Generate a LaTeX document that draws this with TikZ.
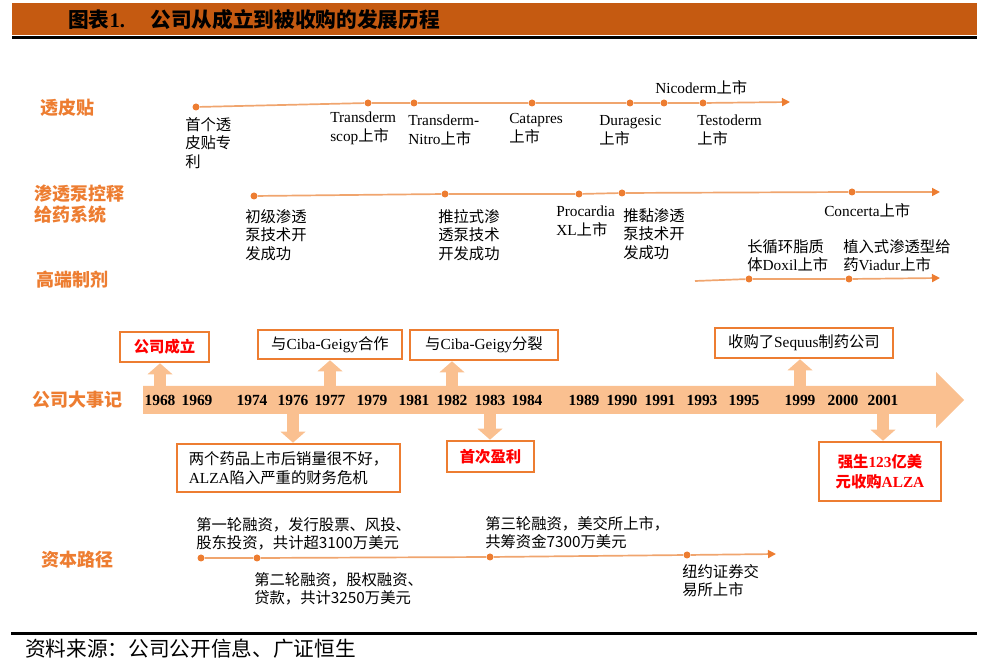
\documentclass[tikz,border=0pt]{standalone}
\usepackage{fontspec}
\setmainfont{Noto Sans CJK SC}
\newfontfamily\enfont{Liberation Serif}
\newcommand\en[1]{{\enfont #1}}
\usetikzlibrary{arrows.meta, positioning}
\definecolor{headbar}{HTML}{C55A11}
\definecolor{ora}{HTML}{ED7D31}
\definecolor{linec}{HTML}{F0A56E}
\definecolor{peach}{HTML}{FAC090}
\newcommand\px{0.75pt}

\begin{document}
\begin{tikzpicture}[
    x=\px, y=-\px,
    dot/.style={circle, fill=ora, inner sep=0pt, minimum size=7*\px},
    rowline/.style={draw=linec, line width=1.7*\px},
    rowarrow/.style={rowline, -{Triangle[length=6pt, width=6pt, color=ora]}},
    rowlabel/.style={anchor=west, align=left, inner sep=0pt, text=ora, font=\fontsize{13.5}{16}\selectfont\bfseries},
    note/.style={anchor=north west, align=left, inner sep=0pt, font=\fontsize{11.5}{14}\selectfont},
    yr/.style={inner sep=0pt, font=\enfont\bfseries\fontsize{11.6}{13}\selectfont},
    evbox/.style={draw=ora, line width=2.6*\px, fill=white, align=center, inner sep=0pt, font=\fontsize{11.5}{14.5}\selectfont},
    redbox/.style={evbox, text=red, font=\fontsize{11.5}{14.5}\selectfont\bfseries},
    fat/.style={draw=peach, line width=12*\px, -{Triangle[length=8.25pt, width=18.75pt, line width=0pt]}}
]
\useasboundingbox (0,0) rectangle (983,666);

% header
\fill[headbar] (12,3) rectangle (977,35);
\draw[line width=3*\px] (12,37.5) -- (977,37.5);
\node[anchor=west, inner sep=0pt, font=\fontsize{15.5}{18}\selectfont\bfseries] (title) at (68,20)
    {图表\en{1.}\hspace{19pt}公司从成立到被收购的发展历程};

% row titles
\node[rowlabel] (lbl1) at (40,108) {透皮贴};
\node[rowlabel] (lbl2) at (34,204) {渗透泵控释\\给药系统};
\node[rowlabel] (lbl3) at (36,280) {高端制剂};
\node[rowlabel] (lbl4) at (32,400) {公司大事记};
\node[rowlabel] (lbl5) at (41,560) {资本路径};

% small timelines
\foreach \n/\x/\y in {11/196/107, 12/368/103, 13/414/103, 14/532/103, 15/630/103, 16/664/103, 17/703/103,
    21/254/196, 22/445/194, 23/579/194, 24/622/193, 25/852/192,
    31/749/279, 32/849/279,
    41/201/558, 42/257/558, 43/490/557, 44/687/555}
    \node[dot] (d\n) at (\x,\y) {};
\coordinate (e1) at (790,102);
\coordinate (e2) at (940,192);
\coordinate (s3) at (695,281);
\coordinate (e3) at (940,278);
\coordinate (e4) at (776,554);
\draw[rowarrow] (d11) -- (d12) -- (d13) -- (d14) -- (d15) -- (d16) -- (d17) -- (e1);
\draw[rowarrow] (d21) -- (d22) -- (d23) -- (d24) -- (d25) -- (e2);
\draw[rowarrow] (s3) -- (d31) -- (d32) -- (e3);
\draw[rowarrow] (d41) -- (d42) -- (d43) -- (d44) -- (e4);

% transdermal
\node[note] (n11) at (185,117) {首个透\\皮贴专\\利};
\node[note] (n12) at (330,112) {\en{Transderm}\\\en{scop}上市};
\node[note] (n13) at (408,115) {\en{Transderm-}\\\en{Nitro}上市};
\node[note] (n14) at (509,113) {\en{Catapres}\\上市};
\node[note] (n15) at (599,115) {\en{Duragesic}\\上市};
\node[note] (n16) at (655,80) {\en{Nicoderm}上市};
\node[note] (n17) at (697,115) {\en{Testoderm}\\上市};

% osmotic pump
\node[note] (n21) at (245,209) {初级渗透\\泵技术开\\发成功};
\node[note] (n22) at (438,209) {推拉式渗\\透泵技术\\开发成功};
\node[note] (n23) at (556,206) {\en{Procardia}\\\en{XL}上市};
\node[note] (n24) at (623,208) {推黏渗透\\泵技术开\\发成功};
\node[note] (n25) at (824,203) {\en{Concerta}上市};

% high-end
\node[note] (n31) at (747,239) {长循环脂质\\体\en{Doxil}上市};
\node[note] (n32) at (843,239) {植入式渗透型给\\药\en{Viadur}上市};

% capital
\node[note] (n41) at (196,517) {第一轮融资，发行股票、风投、\\股东投资，共计超3100万美元};
\node[note] (n42) at (254,572) {第二轮融资，股权融资、\\贷款，共计3250万美元};
\node[note] (n43) at (485,516) {第三轮融资，美交所上市，\\共筹资金7300万美元};
\node[note] (n44) at (682,564) {纽约证券交\\易所上市};

% main arrow
\fill[peach] (143,386) -- (936,386) -- (936,372) -- (964,400) -- (936,428) -- (936,414) -- (143,414) -- cycle;
\coordinate (bartop) at (143,386);
\coordinate (barbot) at (143,414);
\foreach \yr/\x in {1968/160, 1969/197, 1974/252, 1976/293, 1977/330, 1979/372, 1981/414, 1982/452, 1983/490,
    1984/527, 1989/584, 1990/622, 1991/660, 1993/702, 1995/744, 1999/800, 2000/843, 2001/883}
    \node[yr] (y\yr) at (\x,400) {\yr};

% events
\node[redbox, minimum width=89*\px, minimum height=30*\px] (b1968) at (164.5,347) {公司成立};
\node[evbox, minimum width=144*\px, minimum height=29*\px] (b1977) at (330,344.5) {与\en{Ciba-Geigy}合作};
\node[evbox, minimum width=148*\px, minimum height=30*\px] (b1982) at (484,345) {与\en{Ciba-Geigy}分裂};
\node[evbox, minimum width=178*\px, minimum height=30*\px] (b1999) at (804,343) {收购了\en{Sequus}制药公司};
\node[evbox, minimum width=223*\px, minimum height=48*\px, align=left] (b1976) at (288.5,468)
    {两个药品上市后销量很不好，\\\en{ALZA}陷入严重的财务危机};
\node[redbox, minimum width=87*\px, minimum height=31*\px] (b1983) at (490.5,456.5) {首次盈利};
\node[redbox, minimum width=122*\px, minimum height=59*\px] (b2001) at (880,471.5) {强生\en{123}亿美\\元收购\en{ALZA}};

\draw[fat] (y1968 |- bartop) -- (y1968 |- b1968.south);
\draw[fat] (y1977 |- bartop) -- (y1977 |- b1977.south);
\draw[fat] (y1982 |- bartop) -- (y1982 |- b1982.south);
\draw[fat] (y1999 |- bartop) -- (y1999 |- b1999.south);
\draw[fat] (y1976 |- barbot) -- (y1976 |- b1976.north);
\draw[fat] (y1983 |- barbot) -- (y1983 |- b1983.north);
\draw[fat] (y2001 |- barbot) -- (y2001 |- b2001.north);

% footer
\draw[line width=3*\px] (11,633.5) -- (977,633.5);
\node[anchor=west, inner sep=0pt, font=\fontsize{15.5}{18}\selectfont] (src) at (25,649)
    {资料来源：公司公开信息、广证恒生};
\end{tikzpicture}
\end{document}
